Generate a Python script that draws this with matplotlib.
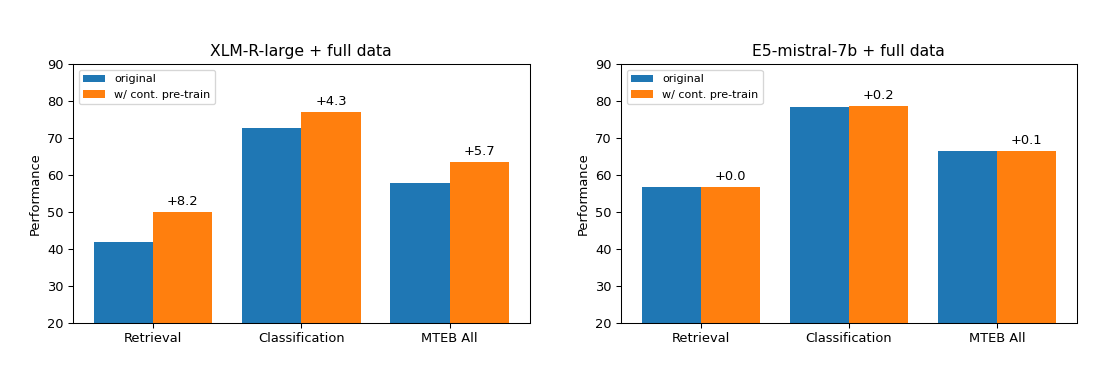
#!/usr/bin/env python3

import numpy as np
import matplotlib

matplotlib.use("Agg")
import matplotlib.pyplot as plt

categories = ["Retrieval", "Classification", "MTEB All"]

xlmr_original = [42.0, 72.8, 57.9]
xlmr_cont = [50.2, 77.1, 63.6]
xlmr_gain = ["+8.2", "+4.3", "+5.7"]

e5_original = [56.8, 78.5, 66.6]
e5_cont = [56.8, 78.7, 66.7]
e5_gain = ["+0.0", "+0.2", "+0.1"]

titles = ["XLM-R-large + full data", "E5-mistral-7b + full data"]

DPI = 94


def plot_panel(ax, original, cont, gains, title):
    x = np.arange(len(categories))
    width = 0.4
    ax.bar(x - width / 2, original, width, label="original", color="#1f77b4")
    bars = ax.bar(x + width / 2, cont, width, label="w/ cont. pre-train", color="#ff7f0e")
    for bar, g in zip(bars, gains):
        ax.annotate(
            g,
            (bar.get_x() + bar.get_width() / 2, bar.get_height()),
            xytext=(0, 3),
            textcoords="offset points",
            ha="center",
            va="bottom",
            fontsize=10,
        )
    ax.set_xticks(x)
    ax.set_xticklabels(categories)
    ax.set_ylim(20, 90)
    ax.set_ylabel("Performance")
    ax.set_title(title)
    ax.legend(loc="upper left", fontsize=8.5)


def main():
    fig = plt.figure(figsize=(1101 / DPI, 371 / DPI), dpi=DPI)
    ax1 = fig.add_axes([0.0663, 0.1286, 0.4147, 0.6981])
    ax2 = fig.add_axes([0.564, 0.1286, 0.414, 0.6981])

    plot_panel(ax1, xlmr_original, xlmr_cont, xlmr_gain, titles[0])
    plot_panel(ax2, e5_original, e5_cont, e5_gain, titles[1])

    fig.savefig("out.png", dpi=DPI)


if __name__ == "__main__":
    main()
